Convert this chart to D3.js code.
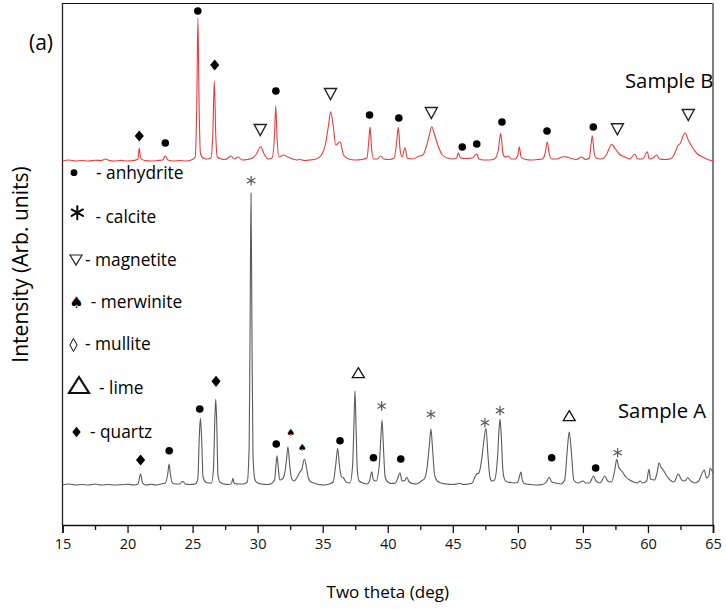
<!DOCTYPE html>
<html><head><meta charset="utf-8">
<script src="https://cdn.jsdelivr.net/npm/d3@7"></script>
<style>
html,body{margin:0;padding:0;background:#fff;}
svg{display:block;font-family:"Open Sans",sans-serif;}
</style></head>
<body><svg id="chart" width="726" height="609"></svg>
<script>
// ---- data (intensity in arbitrary units; Sample B is plotted offset above Sample A) ----
const xTicks = [15,20,25,30,35,40,45,50,55,60,65];
const xMinorTicks = [17.5,22.5,27.5,32.5,37.5,42.5,47.5,52.5,57.5,62.5];

const sampleA = [
[15.0,40],[15.5,41],[16.0,40],[16.5,40.5],[17.0,40],[17.5,41],[18.0,40],[18.5,40.5],[19.0,40],[19.5,40.3],[20.0,40.8],[20.5,40],[20.8,41],[21.0,51],[21.15,42],[21.4,40],[21.8,40.8],[22.2,40],[22.6,41],[22.9,42],[23.1,52],[23.19,61],[23.3,50],[23.45,42],[23.7,41],[24.0,41],[24.24,43.5],[24.45,41],[24.8,40.5],[25.2,41],[25.4,46],[25.52,90],[25.6,106.7],[25.7,85],[25.8,48],[26.0,43],[26.2,42],[26.45,42],[26.6,55],[26.72,110],[26.78,125.7],[26.86,100],[26.95,50],[27.1,43],[27.4,41],[27.8,40.5],[28.0,42],[28.1,46.7],[28.2,41.5],[28.5,41],[28.9,41],[29.2,43],[29.35,80],[29.42,200],[29.49,331.7],[29.56,200],[29.64,70],[29.8,45],[30.0,42],[30.3,41],[30.7,40.5],[31.0,41],[31.3,45],[31.42,62],[31.49,69.3],[31.58,58],[31.7,45],[31.9,46],[32.05,50],[32.2,63],[32.33,78.3],[32.45,62],[32.6,47],[32.8,44],[33.0,47],[33.25,53],[33.4,56],[33.59,66],[33.75,58],[33.9,47],[34.1,43],[34.4,41.7],[34.7,40.5],[35.1,40],[35.5,41],[35.8,43],[36.0,60],[36.15,76.7],[36.3,58],[36.46,48],[36.6,47],[36.8,43],[37.1,42],[37.3,60],[37.4,100],[37.48,134.3],[37.56,100],[37.66,55],[37.8,44],[38.1,42],[38.4,41],[38.6,44],[38.77,53.3],[38.9,45],[39.1,44],[39.35,60],[39.48,90],[39.56,105],[39.66,80],[39.8,48],[40.0,43],[40.3,41.5],[40.6,42],[40.8,48],[40.94,52.3],[41.1,44],[41.3,44.5],[41.46,47.7],[41.65,43],[41.9,41.5],[42.2,41],[42.4,42],[42.61,44.3],[42.8,46],[43.0,55],[43.2,80],[43.32,96],[43.45,75],[43.6,50],[43.8,44],[44.1,42],[44.5,41],[45.0,40.5],[45.3,41],[45.55,41.7],[45.8,40.5],[46.2,41],[46.5,42],[46.7,48],[46.84,51],[47.0,52],[47.22,65.7],[47.35,80],[47.55,96.7],[47.7,70],[47.85,48],[48.0,44],[48.2,45],[48.45,70],[48.55,95],[48.63,106],[48.72,90],[48.85,55],[49.0,45],[49.2,43],[49.5,42.5],[49.8,42],[50.0,43],[50.15,50],[50.24,53],[50.35,44],[50.6,41],[51.0,40.5],[51.5,40],[51.9,40.5],[52.2,43],[52.42,47.7],[52.6,43],[52.9,42],[53.3,41],[53.6,45],[53.8,75],[53.95,93.3],[54.1,75],[54.3,45],[54.6,42],[55.03,44],[55.2,42],[55.5,42],[55.83,49],[56.0,44],[56.3,42],[56.7,49],[56.9,44],[57.2,43],[57.45,55],[57.6,65.7],[57.75,58],[58.03,53.3],[58.3,48],[58.6,45],[58.9,43],[59.2,42],[59.39,44],[59.6,42],[59.9,44],[60.08,55.7],[60.2,46],[60.5,45],[60.7,52],[60.85,62.3],[61.0,58],[61.18,55],[61.4,50],[61.7,45],[62.0,43],[62.33,51],[62.6,45],[62.85,44],[63.06,47.3],[63.3,44],[63.6,42],[63.9,44],[64.1,50],[64.33,55],[64.5,47],[64.7,50],[64.77,56.7],[65.0,52]
];

const sampleB = [
[15.0,364],[15.5,365],[16.0,364],[16.5,364.5],[17.0,364],[17.5,364.8],[18.0,364.5],[18.3,366],[18.6,364.5],[19.0,364],[19.5,364.6],[20.0,364],[20.5,364.5],[20.8,366],[20.9,377],[21.0,367],[21.3,364.5],[21.8,364],[22.3,364.5],[22.7,365],[22.9,369],[23.1,365],[23.5,364],[24.0,364.5],[24.5,364],[24.9,365],[25.2,368],[25.32,420],[25.41,507],[25.5,420],[25.6,372],[25.8,367],[26.1,366],[26.4,367],[26.55,390],[26.67,444.3],[26.78,390],[26.9,368],[27.2,366],[27.5,365.5],[27.95,369],[28.2,366],[28.5,368],[28.8,365],[29.2,365.5],[29.6,367],[29.9,371],[30.23,378.3],[30.5,371],[30.8,366],[31.1,367],[31.3,390],[31.39,419],[31.5,385],[31.65,368],[32.0,370],[32.3,368],[32.7,366],[33.0,365],[33.25,365.5],[33.6,364.5],[34.0,365],[34.5,366],[34.9,370],[35.2,380],[35.45,400],[35.61,413.3],[35.8,400],[36.0,380],[36.33,383.3],[36.6,370],[37.0,366],[37.5,365],[38.0,365.5],[38.4,367],[38.55,385],[38.64,398.3],[38.75,378],[38.9,366],[39.2,366],[39.46,369],[39.7,366],[40.1,365.5],[40.5,367],[40.7,385],[40.81,397.7],[40.95,375],[41.1,368],[41.33,377.3],[41.5,367],[41.9,366],[42.43,369],[42.7,370],[43.0,380],[43.2,390],[43.38,398.3],[43.6,390],[43.9,378],[44.2,370],[44.6,367],[45.0,366],[45.3,367],[45.42,372.3],[45.6,367],[46.0,366.5],[46.5,367],[46.84,371],[47.0,366],[47.4,365],[47.8,365],[48.2,366],[48.5,375],[48.68,391.7],[48.85,372],[49.0,368],[49.27,369],[49.5,366],[49.8,366],[50.0,370],[50.11,378.3],[50.25,368],[50.6,365.5],[51.0,365],[51.5,365.5],[51.9,366],[52.1,372],[52.26,383.3],[52.4,372],[52.6,366],[53.0,366],[53.4,368],[53.7,368.3],[54.0,367],[54.5,365.5],[54.9,368],[55.2,365.5],[55.5,367],[55.62,380],[55.72,389.3],[55.85,374],[56.0,367],[56.4,366],[56.8,370],[57.0,376],[57.21,380.7],[57.5,376],[57.8,371],[58.2,368],[58.6,366],[59.0,371],[59.2,366],[59.6,366],[59.95,373.3],[60.1,366],[60.4,367],[60.67,370],[60.9,366],[61.3,365.5],[61.7,366],[62.0,370],[62.29,379],[62.5,382],[62.85,392.3],[63.1,385],[63.4,378],[63.8,371],[64.2,368],[64.6,365.5],[65.0,364]
];

const markersA = [
["quartz",21.0,65],["anhydrite",23.2,74.3],["anhydrite",25.55,116],["quartz",26.8,143.7],
["calcite",29.5,344.3],["anhydrite",31.43,81],["merwinite",32.54,92.3],["merwinite",33.43,77.7],
["anhydrite",36.33,84.3],["lime",37.74,152.3],["anhydrite",38.9,67.3],["calcite",39.53,119],
["anhydrite",41.0,66],["calcite",43.32,110.7],["calcite",47.47,102.3],["calcite",48.63,114.3],
["anhydrite",52.6,67.3],["lime",53.95,109.3],["anhydrite",55.98,57],["calcite",57.67,72.3]
];
const markersB = [
["quartz",20.9,389],["anhydrite",22.9,382],["anhydrite",25.4,514],["quartz",26.7,460],
["magnetite",30.2,395],["anhydrite",31.4,434],["magnetite",35.6,431],["anhydrite",38.6,410],
["anhydrite",40.85,407],["magnetite",43.35,412],["anhydrite",45.73,378],["anhydrite",46.84,381],
["anhydrite",48.78,403],["anhydrite",52.24,394],["anhydrite",55.8,398],["magnetite",57.65,395.7],
["magnetite",63.1,410]
];

const legendPhases = ["anhydrite","calcite","magnetite","merwinite","mullite","lime","quartz"];
const legendLabels = ["- anhydrite","- calcite","- magnetite","- merwinite","- mullite","- lime","- quartz"];

// ---- layout ----
const svg = d3.select("#chart");
const plot = {left:62.5, right:713, top:3, bottom:525};
const x = d3.scaleLinear().domain([15,65]).range([plot.left, plot.right]);
const y = d3.scaleLinear().domain([0,522]).range([plot.bottom, plot.top]);

const line = d3.line().x(d=>x(d[0])).y(d=>y(d[1])).curve(d3.curveMonotoneX);

// frame
svg.append("line").attr("x1",plot.left).attr("x2",plot.right).attr("y1",plot.top+0.5).attr("y2",plot.top+0.5).attr("stroke","#111").attr("stroke-width",1.2);
svg.append("line").attr("x1",plot.right).attr("x2",plot.right).attr("y1",plot.top).attr("y2",plot.bottom).attr("stroke","#808080").attr("stroke-width",2);
svg.append("line").attr("x1",plot.left).attr("x2",plot.left).attr("y1",plot.top).attr("y2",plot.bottom).attr("stroke","#222").attr("stroke-width",1.3);

// series
svg.append("path").datum(sampleB).attr("d",line).attr("fill","none").attr("stroke","#ea3b3b").attr("stroke-width",1.1);
svg.append("path").datum(sampleA).attr("d",line).attr("fill","none").attr("stroke","#5a5a5a").attr("stroke-width",1.1);

// x axis
const xAxis = d3.axisBottom(x).tickValues(xTicks).tickSize(8).tickPadding(6).tickFormat(d3.format("d"));
const gx = svg.append("g").attr("transform",`translate(0,${plot.bottom})`).call(xAxis);
gx.select(".domain").attr("stroke","#111").attr("stroke-width",1.6);
gx.selectAll(".tick line").attr("stroke","#111").attr("stroke-width",1.3);
gx.selectAll(".tick text").attr("font-family","Open Sans").attr("font-size",14.5).attr("fill","#111");
const gxm = svg.append("g").attr("transform",`translate(0,${plot.bottom})`)
  .call(d3.axisBottom(x).tickValues(xMinorTicks).tickSize(5).tickFormat(""));
gxm.select(".domain").remove();
gxm.selectAll(".tick line").attr("stroke","#111").attr("stroke-width",1.3);

// symbols
function drawSymbol(g, phase, cx, cy, big){
  const k = big ? 1 : 0;
  if(phase==="anhydrite"){
    g.append("circle").attr("cx",cx).attr("cy",cy).attr("r", big?3.4:3.8).attr("fill","#000");
  } else if(phase==="quartz"){
    const w = big?4.2:4.6, h = big?5.2:5.6;
    g.append("path").attr("d",`M${cx},${cy-h}L${cx+w},${cy}L${cx},${cy+h}L${cx-w},${cy}Z`).attr("fill","#000");
  } else if(phase==="mullite"){
    const w=3.6,h=6.5;
    g.append("path").attr("d",`M${cx},${cy-h}L${cx+w},${cy}L${cx},${cy+h}L${cx-w},${cy}Z`).attr("fill","none").attr("stroke","#000").attr("stroke-width",1);
  } else if(phase==="magnetite"){
    const w = 6, h = big?10:11;
    g.append("path").attr("d",`M${cx-w},${cy-h/2}L${cx+w},${cy-h/2}L${cx},${cy+h/2}Z`).attr("fill","none").attr("stroke","#222").attr("stroke-width",big?1.2:1.4);
  } else if(phase==="lime"){
    const w = big?10:6, h = big?16:10;
    g.append("path").attr("d",`M${cx},${cy-h/2}L${cx+w},${cy+h/2}L${cx-w},${cy+h/2}Z`).attr("fill","none").attr("stroke","#111").attr("stroke-width",big?2.2:1.3).attr("stroke-linejoin","miter");
  } else if(phase==="calcite"){
    const r = big?6.5:4.3;
    const col = big?"#000":"#555";
    [90,30,150].forEach(a=>{
      const t=a*Math.PI/180;
      g.append("line").attr("x1",cx-r*Math.cos(t)).attr("y1",cy-r*Math.sin(t)).attr("x2",cx+r*Math.cos(t)).attr("y2",cy+r*Math.sin(t))
       .attr("stroke",col).attr("stroke-width",big?2:1.2).attr("stroke-linecap","round");
    });
  } else if(phase==="merwinite"){
    g.append("text").attr("x",cx).attr("y",cy).attr("text-anchor","middle").attr("dominant-baseline","central")
     .attr("font-family","DejaVu Sans").attr("font-size",big?16:10).attr("fill","#000").text("\u2660");
  }
}

const gm = svg.append("g");
markersA.forEach(m=>drawSymbol(gm, m[0], x(m[1]), y(m[2]), false));
markersB.forEach(m=>drawSymbol(gm, m[0], x(m[1]), y(m[2]), false));

// legend
const legSymX = [74, 77.3, 76, 76.5, 73.5, 79, 76.5];
const legSymY = [172.7, 212.7, 260, 302, 345, 385, 432];
const legTextX = [96, 95.5, 85, 90.7, 85, 99, 90];
const legTextY = [179, 223, 266, 308, 350, 394, 438];
const gl = svg.append("g");
legendPhases.forEach((p,i)=>{
  drawSymbol(gl, p, legSymX[i], legSymY[i], true);
  gl.append("text").attr("x",legTextX[i]).attr("y",legTextY[i]).attr("font-size",17.3).attr("fill","#000").text(legendLabels[i]);
});

// annotations
svg.append("text").attr("x",625).attr("y",88).attr("font-size",20.3).attr("fill","#000").text("Sample B");
svg.append("text").attr("x",618).attr("y",418).attr("font-size",20.3).attr("fill","#000").text("Sample A");
svg.append("text").attr("x",29).attr("y",50).attr("font-size",21).attr("fill","#000").text("(a)");

// axis titles
svg.append("text").attr("x",(plot.left+plot.right)/2).attr("y",598).attr("text-anchor","middle").attr("font-size",17).attr("fill","#000").text("Two theta (deg)");
svg.append("text").attr("transform",`translate(28,264.5) rotate(-90)`).attr("text-anchor","middle").attr("font-size",21).attr("fill","#000").text("Intensity (Arb. units)");
</script></body></html>
